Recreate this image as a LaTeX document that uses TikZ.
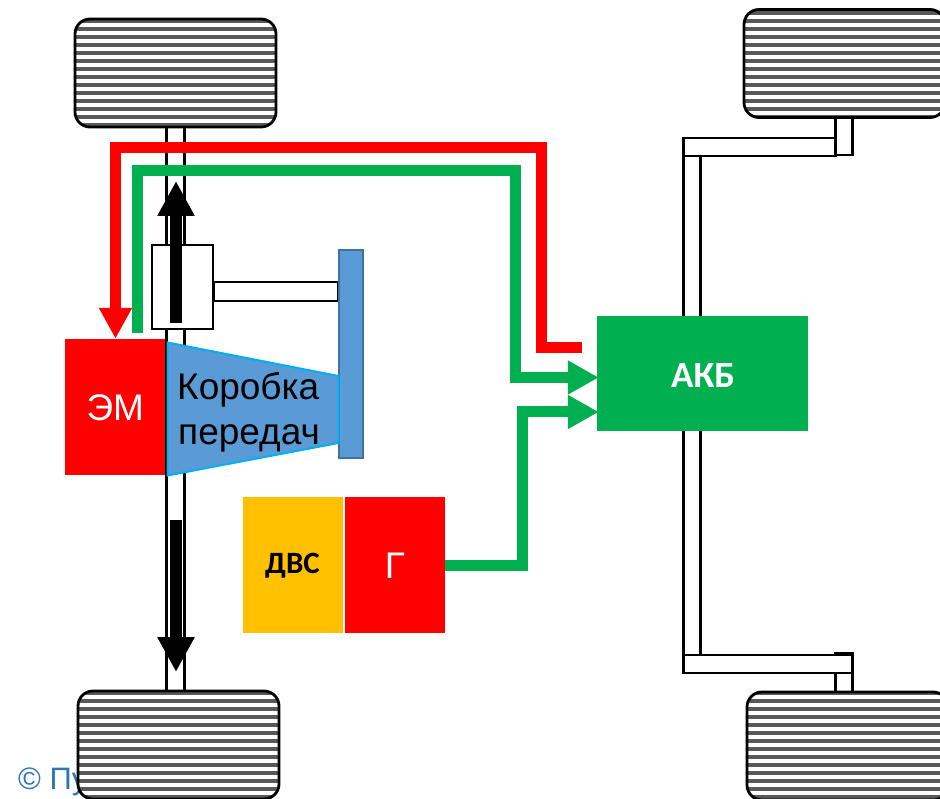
\documentclass[tikz,border=0pt]{standalone}
\usepackage{fontspec}
\setmainfont{Liberation Sans}
\newfontfamily\carl{Carlito}
\usetikzlibrary{arrows.meta}
\definecolor{stripegrey}{HTML}{595959}
\definecolor{gblue}{HTML}{5B9BD5}
\definecolor{gedge}{HTML}{00B0F0}
\definecolor{pedge}{HTML}{41719C}
\definecolor{pgreen}{HTML}{00B050}
\definecolor{pyellow}{HTML}{FFC000}
\definecolor{cblue}{HTML}{2E75B6}
\tikzset{
  wheel/.style={draw=black,line width=2.8pt,fill=white,rounded corners=15pt,inner sep=0pt,
    minimum width=201pt,minimum height=108pt,
    path picture={\foreach \k in {0,...,14}{
      \fill[stripegrey,sharp corners] ([yshift={-(#1+8*\k)*1pt}]path picture bounding box.north west) rectangle
        ([yshift={-(#1+4+8*\k)*1pt}]path picture bounding box.north east);}}},
  whitebox/.style={draw=black,line width=2.4pt,fill=white,inner sep=0pt},
  block/.style={inner sep=0pt,text=white,font=\fontsize{37}{37}\selectfont},
  powerred/.style={draw=red,line width=11pt,-{Triangle[length=31pt,width=31pt]}},
  powergreen/.style={draw=pgreen,line width=11pt,-{Triangle[length=31pt,width=32pt]}},
  flow/.style={draw=black,line width=12pt,-{Triangle[length=35pt,width=35pt]}},
}
\begin{document}
\begin{tikzpicture}[x=1pt,y=-1pt]
\useasboundingbox (0,0) rectangle (940,799);
\clip (0,0) rectangle (940,799);
% copyright text (hidden behind the wheel)
\node[anchor=base west,inner sep=0pt,text=cblue,font=\fontsize{31}{31}\selectfont] (copy) at (18,789) {© Пу};
% left axle
\node[whitebox,minimum width=18pt,minimum height=565pt] (axleL) at (175.5,408.5) {};
% right axle
\node[whitebox,minimum width=17pt,minimum height=500pt] (axleR) at (692,405.5) {};
\node[whitebox,minimum width=152pt,minimum height=18pt] (armT) at (759.5,147) {};
\node[whitebox,minimum width=17pt,minimum height=37pt] (stubT) at (844,136.5) {};
\node[whitebox,minimum width=17pt,minimum height=39pt] (stubB) at (844,673) {};
\node[whitebox,minimum width=169pt,minimum height=18pt] (armB) at (768,664) {};
% wheels
\node[wheel=0.3] (w1) at (175.5,73) {};
\node[wheel=0] (w2) at (178.5,745) {};
\node[wheel=1.3] (w3) at (844.5,63.5) {};
\node[wheel=-0.7] (w4) at (847.5,746) {};
% plate and shaft
\node[whitebox,minimum width=125pt,minimum height=19pt] (shaft) at (276,291.5) {};
\node[draw=pedge,line width=2pt,fill=gblue,inner sep=0pt,minimum width=24pt,minimum height=208pt] (plate) at (351,354) {};
\node[whitebox,minimum width=61pt,minimum height=84pt] (hub) at (182.5,287) {};
% motor and gearbox
\node[block,fill=red,minimum width=100.5pt,minimum height=136pt] (em) at (115.25,407) {};
\node[inner sep=0pt,text=white,font=\fontsize{37}{37}\selectfont] (emt) at (115.25,408) {ЭМ};
\draw[line width=2.4pt,draw=black] (166.2,329) -- (166.2,476);
\draw[draw=gedge,line width=2pt,fill=gblue] (167.5,342.5) -- (338.5,376) -- (338.5,443) -- (167.5,475.5) -- cycle;
\node[anchor=base west,inner sep=0pt,font=\fontsize{37}{37}\selectfont] (kor) at (177,400) {Коробка};
\node[anchor=base west,inner sep=0pt,font=\fontsize{37}{37}\selectfont] (per) at (178,445) {передач};
% battery, engine, generator
\node[fill=pgreen,text=white,inner sep=0pt,minimum width=211pt,minimum height=115pt] (akb) at (702.5,373.5) {};
\node[text=white,inner sep=0pt,font=\carl\bfseries\fontsize{37}{37}\selectfont] (akbt) at (703,376) {АКБ};
\node[fill=pyellow,inner sep=0pt,minimum width=100pt,minimum height=136pt] (dvs) at (293,565) {};
\node[text=black,inner sep=0pt,font=\carl\bfseries\fontsize{31}{31}\selectfont] (dvst) at (292.5,566) {ДВС};
\node[block,fill=red,minimum width=100pt,minimum height=136pt] (gen) at (395,565) {};
\node[inner sep=0pt,text=white,font=\fontsize{37}{37}\selectfont] (gent) at (395,566) {Г};
% free ends
\coordinate (rs) at (582,348);
\coordinate (gs) at (137.5,333);
\coordinate (fu1) at (176,323);
\coordinate (fu2) at (176,181);
\coordinate (fd1) at (176,520);
\coordinate (fd2) at (176,672);
% connectors
\draw[powerred] (rs) -- (541,348) -- (541,148) -- (115.5,148) -- (em.north -| 115.5,0);
\draw[powergreen] (gs) -- (137.5,171) -- (515,171) -- (515,377.5) -- ([xshift=2pt]akb.west |- 0,377.5);
\draw[powergreen] (gen.east) -- (522,565) -- (522,412) -- ([xshift=2pt]akb.west |- 0,412);
\draw[flow] (fu1) -- (fu2);
\draw[flow] (fd1) -- (fd2);
\end{tikzpicture}
\end{document}
